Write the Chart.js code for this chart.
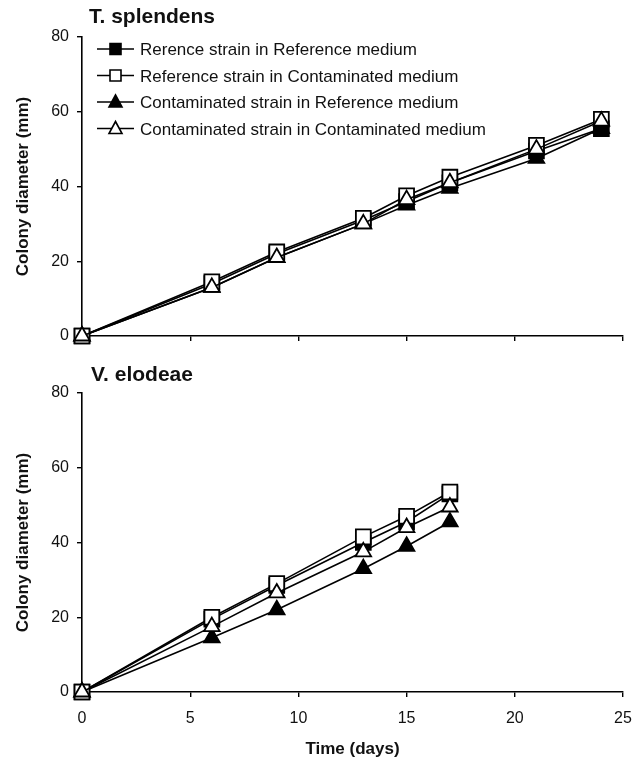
<!DOCTYPE html>
<html>
<head>
<meta charset="utf-8">
<title>Colony diameter</title>
<script src="https://cdn.jsdelivr.net/npm/chart.js@4.4.1/dist/chart.umd.min.js"></script>
<style>
  body { margin: 0; background: #fff; }
  #wrap { position: relative; width: 644px; height: 761px; }
  canvas { position: absolute; left: 0; }
</style>
</head>
<body>
<div id="wrap">
  <canvas id="topChart" width="644" height="360" style="top:0"></canvas>
  <canvas id="bottomChart" width="644" height="401" style="top:360px"></canvas>
</div>
<script>
// series labels (legend text as printed)
const seriesLabels = [
    'Rerence strain in Reference medium',
    'Reference strain in Contaminated medium',
    'Contaminated strain in Reference medium',
    'Contaminated strain in Contaminated medium'
];

// T. splendens
const daysTop = [0, 6, 9, 13, 15, 17, 21, 24];
const topRefRef   = [0, 14, 22, 31, 36, 41, 49.5, 55.5];
const topRefCont  = [0, 14.5, 22.5, 31.5, 37.5, 42.5, 51, 58];
const topContRef  = [0, 13, 21, 30, 35, 39.5, 47.5, 55.5];
const topContCont = [0, 13, 21, 30, 36.5, 41, 50, 57.5];

// V. elodeae
const daysBottom = [0, 6, 9, 13, 15, 17];
const botRefRef   = [0, 19.5, 28.5, 40, 45.5, 53];
const botRefCont  = [0, 20, 29, 41.5, 47, 53.5];
const botContRef  = [0, 14.5, 22, 33, 39, 45.5];
const botContCont = [0, 17.5, 26.5, 37.5, 44, 49.5];

const yTicks = [0, 20, 40, 60, 80];
const xTicks = [0, 5, 10, 15, 20, 25];

const FONT = '"Liberation Sans", Arial, sans-serif';

// marker styles per series: shape, filled, draw order (lower = on top)
const markers = [
    { style: 'rect', fill: '#000', radius: 10.5, order: 3 },
    { style: 'rect', fill: '#fff', radius: 10.5, order: 1 },
    { style: 'triangle', fill: '#000', radius: 9, order: 2 },
    { style: 'triangle', fill: '#fff', radius: 9, order: 0 }
];

function makeDatasets(days, series) {
    return series.map((vals, i) => ({
        label: seriesLabels[i],
        data: days.map((d, j) => ({ x: d, y: vals[j] })),
        borderColor: '#000',
        borderWidth: 1.6,
        pointStyle: markers[i].style,
        pointRadius: markers[i].radius,
        pointBackgroundColor: markers[i].fill,
        pointBorderColor: '#000',
        pointBorderWidth: 1.8,
        order: markers[i].order,
        clip: false,
        tension: 0
    }));
}

// panel title drawn above the plot
const panelTitle = {
    id: 'panelTitle',
    afterDraw(chart, args, opts) {
        const ctx = chart.ctx;
        ctx.save();
        ctx.font = 'bold 21px ' + FONT;
        ctx.fillStyle = '#111';
        ctx.textBaseline = 'alphabetic';
        ctx.fillText(opts.text, opts.x, opts.y);
        ctx.restore();
    }
};

// legend with line through the marker, like the printed figure
const lineLegend = {
    id: 'lineLegend',
    afterDraw(chart, args, opts) {
        if (!opts.show) return;
        const ctx = chart.ctx;
        ctx.save();
        seriesLabels.forEach((txt, i) => {
            const y = opts.y0 + i * opts.step;
            ctx.strokeStyle = '#000';
            ctx.lineWidth = 1.6;
            ctx.beginPath();
            ctx.moveTo(97, y);
            ctx.lineTo(134, y);
            ctx.stroke();
            ctx.fillStyle = markers[i].fill;
            ctx.lineWidth = 1.6;
            ctx.beginPath();
            if (markers[i].style === 'rect') {
                ctx.rect(110, y - 5.5, 11, 11);
            } else {
                ctx.moveTo(115.5, y - 7);
                ctx.lineTo(122, y + 5);
                ctx.lineTo(109, y + 5);
                ctx.closePath();
            }
            ctx.fill();
            ctx.stroke();
            ctx.fillStyle = '#111';
            ctx.font = '17px ' + FONT;
            ctx.textBaseline = 'alphabetic';
            ctx.fillText(txt, 140, y + 6);
        });
        ctx.restore();
    }
};

function makeChart(id, days, series, cfg) {
    const ctx = document.getElementById(id).getContext('2d');
    return new Chart(ctx, {
        type: 'line',
        data: { datasets: makeDatasets(days, series) },
        plugins: [panelTitle, lineLegend],
        options: {
            responsive: false,
            animation: false,
            layout: { padding: { top: cfg.padTop, right: 21, left: 0, bottom: 0 } },
            scales: {
                x: {
                    type: 'linear',
                    min: 0,
                    max: 25,
                    afterBuildTicks: s => { s.ticks = xTicks.map(v => ({ value: v })); },
                    afterFit: s => { s.height = cfg.xHeight; },
                    border: { display: true, color: '#000', width: 1.6 },
                    grid: { drawOnChartArea: false, drawTicks: true, tickLength: 5, color: '#000', lineWidth: 1.4 },
                    ticks: {
                        display: cfg.showX,
                        padding: 12,
                        color: '#111',
                        font: { family: FONT, size: 16 }
                    },
                    title: {
                        display: cfg.showX,
                        text: 'Time (days)',
                        color: '#111',
                        padding: { top: 0, bottom: 1 },
                        font: { family: FONT, size: 17, weight: 'bold' }
                    }
                },
                y: {
                    min: 0,
                    max: 80,
                    afterBuildTicks: s => { s.ticks = yTicks.map(v => ({ value: v })); },
                    afterFit: s => { s.width = 82; },
                    border: { display: true, color: '#000', width: 1.6 },
                    grid: { drawOnChartArea: false, drawTicks: true, tickLength: 5, color: '#000', lineWidth: 1.4 },
                    ticks: {
                        padding: 8,
                        color: '#111',
                        font: { family: FONT, size: 16 }
                    },
                    title: {
                        display: true,
                        text: 'Colony diameter (mm)',
                        color: '#111',
                        padding: { top: 13, bottom: 0 },
                        font: { family: FONT, size: 17, weight: 'bold' }
                    }
                }
            },
            plugins: {
                legend: { display: false },
                tooltip: { enabled: false },
                panelTitle: { text: cfg.title, x: cfg.titleX, y: cfg.titleY },
                lineLegend: { show: cfg.legend, y0: 49, step: 26.5 }
            }
        }
    });
}

makeChart('topChart', daysTop, [topRefRef, topRefCont, topContRef, topContCont], {
    padTop: 37, xHeight: 24, showX: false, title: 'T. splendens', titleX: 89, titleY: 23, legend: true
});

makeChart('bottomChart', daysBottom, [botRefRef, botRefCont, botContRef, botContCont], {
    padTop: 33, xHeight: 69, showX: true, title: 'V. elodeae', titleX: 91, titleY: 21, legend: false
});
</script>
</body>
</html>
